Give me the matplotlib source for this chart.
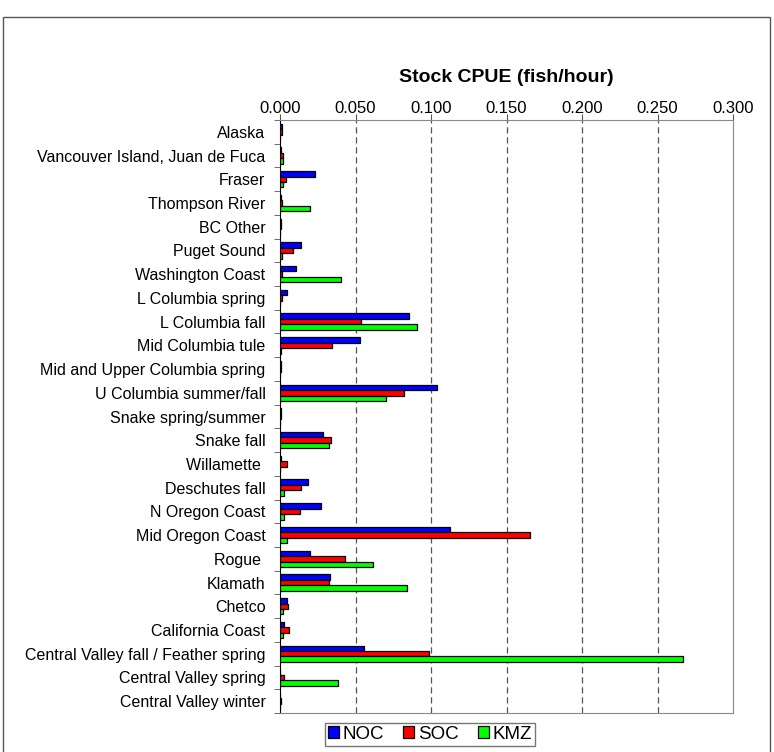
import numpy as np
import matplotlib.pyplot as plt
from matplotlib.patches import Rectangle

plt.rcParams['font.family'] = ['Liberation Sans', 'DejaVu Sans']

stocks = ["Alaska", "Vancouver Island, Juan de Fuca", "Fraser", "Thompson River",
          "BC Other", "Puget Sound", "Washington Coast", "L Columbia spring",
          "L Columbia fall", "Mid Columbia tule", "Mid and Upper Columbia spring",
          "U Columbia summer/fall", "Snake spring/summer", "Snake fall",
          "Willamette ", "Deschutes fall", "N Oregon Coast", "Mid Oregon Coast",
          "Rogue ", "Klamath", "Chetco", "California Coast",
          "Central Valley fall / Feather spring", "Central Valley spring",
          "Central Valley winter"]

noc = [0.0011, 0.0005, 0.0232, 0.0005, 0.0009, 0.0139, 0.0104, 0.0046,
       0.0854, 0.0530, 0.0007, 0.1038, 0.0005, 0.0283, 0.0009, 0.0185,
       0.0269, 0.1124, 0.0201, 0.0329, 0.0046, 0.0029, 0.0559, 0.0003, 0.0003]
soc = [0.0015, 0.0022, 0.0038, 0.0010, 0.0009, 0.0088, 0.0010, 0.0012,
       0.0539, 0.0347, 0.0007, 0.0819, 0.0005, 0.0338, 0.0046, 0.0139,
       0.0130, 0.1658, 0.0433, 0.0322, 0.0055, 0.0062, 0.0989, 0.0028, 0.0008]
kmz = [0.0, 0.0022, 0.0022, 0.0199, 0.0, 0.0010, 0.0402, 0.0,
       0.0905, 0.0005, 0.0, 0.0704, 0.0, 0.0327, 0.0, 0.0028,
       0.0024, 0.0049, 0.0618, 0.0839, 0.0018, 0.0022, 0.2669, 0.0386, 0.0]

fig = plt.figure(figsize=(7.74, 7.52), dpi=100)
# outer frame of the original chart area
fig.patches.append(Rectangle((3 / 774, -0.01), 767 / 774, 1 - 17 / 752 + 0.01,
                             transform=fig.transFigure, fill=False,
                             edgecolor='#555555', linewidth=1))

ax = fig.add_axes([280 / 774, 1 - 713 / 752, 453 / 774, 593 / 752])

y = np.arange(len(stocks))
h = 0.23
kw = dict(edgecolor='black', linewidth=0.9, zorder=3)
ax.barh(y - h, noc, height=h, color='#0000ff', label='NOC', **kw)
ax.barh(y, soc, height=h, color='#ff0000', label='SOC', **kw)
ax.barh(y + h, kmz, height=h, color='#00ff00', label='KMZ', **kw)

ax.set_xlim(0, 0.3)
ax.set_ylim(len(stocks) - 0.5, -0.5)
ax.xaxis.tick_top()
ax.xaxis.set_label_position('top')
ax.set_xticks(np.arange(0, 0.301, 0.05))
ax.set_xticklabels([f"{v:.3f}" for v in np.arange(0, 0.301, 0.05)], fontsize=12)
ax.tick_params(axis='x', direction='out', length=4, pad=-1.3, color='#555555')
ax.set_xlabel("Stock CPUE (fish/hour)", fontsize=14, fontweight='bold', labelpad=14)

ax.set_yticks(y)
ax.set_yticklabels(stocks, fontsize=11.5)
ax.tick_params(axis='y', length=0, pad=10.5)
ax.set_yticks(np.arange(-0.5, len(stocks), 1), minor=True)
ax.tick_params(axis='y', which='minor', direction='out', length=4, color='#555555')

for v in np.arange(0.05, 0.26, 0.05):
    ax.axvline(v, color='#555555', linestyle=(0, (5, 3)), linewidth=0.9, zorder=1)

for s in ['top', 'right']:
    ax.spines[s].set_color('#888888')
ax.spines['bottom'].set_color('#888888')
ax.spines['left'].set_color('black')

leg = ax.legend(loc='upper center', bbox_to_anchor=(0.331, -0.017), ncol=3,
                fontsize=13.5, frameon=True, fancybox=False, edgecolor='#555555',
                handlelength=0.6, handleheight=0.6, handletextpad=0.2,
                columnspacing=1.0, borderpad=0.15, borderaxespad=0)
leg.get_frame().set_linewidth(1)

fig.savefig("out.png", dpi=100)
